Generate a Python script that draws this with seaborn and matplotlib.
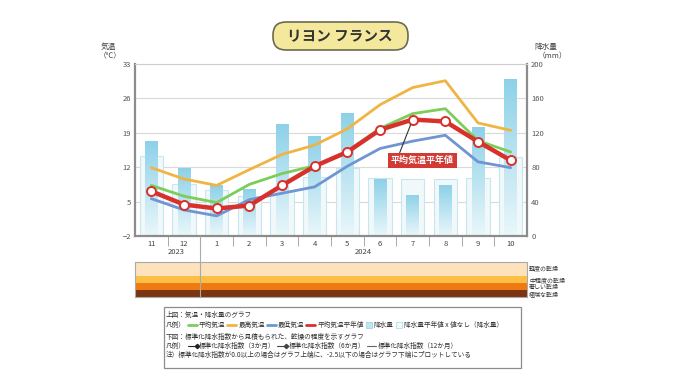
import numpy as np
import matplotlib
matplotlib.use("Agg")
import matplotlib.pyplot as plt
import seaborn as sns
from matplotlib.colors import LinearSegmentedColormap
from matplotlib.patches import FancyBboxPatch, Rectangle
from matplotlib.lines import Line2D

# data
months = ['11', '12', '1', '2', '3', '4', '5', '6', '7', '8', '9', '10']
temp_avg = [8.3, 6.1, 4.8, 8.5, 10.7, 12.3, 15.2, 19.9, 22.9, 23.9, 17.4, 15.1]
temp_max = [11.9, 9.6, 8.3, 11.5, 14.6, 16.5, 19.8, 24.7, 28.2, 29.6, 21.0, 19.5]
temp_min = [5.6, 3.3, 2.1, 5.4, 6.7, 8.0, 12.2, 15.8, 17.3, 18.5, 13.1, 11.9]
temp_normal = [7.1, 4.4, 3.6, 4.2, 8.3, 12.2, 15.1, 19.6, 21.7, 21.3, 17.2, 13.4]
precip = [110, 79, 59, 55, 130, 116, 143, 66, 48, 59, 127, 182]
precip_normal = [93, 61, 53, 47, 52, 69, 79, 68, 66, 66, 68, 92]
temp_ticks = [-2, 5, 12, 19, 26, 33]
precip_ticks = [0, 40, 80, 120, 160, 200]
drought_labels = ['軽度の乾燥', '中程度の乾燥', '著しい乾燥', '極端な乾燥']
drought_colors = ['#fde2bb', '#fbbf45', '#ef7a12', '#7b3411']

sns.set_style("white")
plt.rcParams['font.family'] = ['Noto Sans CJK JP', 'DejaVu Sans']

W, H = 680, 382
fig = plt.figure(figsize=(6.8, 3.82), dpi=100)

def fx(px):
    return px / W

def fy(py):
    return 1 - py / H

# main axes: precip bars underneath, temperatures on a twin axis
ax = fig.add_axes([fx(135), fy(236), fx(392), 172 / H])
x = np.arange(len(months))

sns.barplot(x=x, y=precip_normal, ax=ax, width=0.72, color='#eef9fc',
            edgecolor='#c6e7f0', linewidth=0.8, errorbar=None)
sns.barplot(x=x, y=precip, ax=ax, width=0.39, color='#9fd9ec',
            edgecolor='none', errorbar=None)

grad = LinearSegmentedColormap.from_list('g', ['#eaf7fb', '#8dd1e8'])
img = np.linspace(0, 1, 256).reshape(-1, 1)
for p in ax.patches[len(months):]:
    x0, w, h = p.get_x(), p.get_width(), p.get_height()
    im = ax.imshow(img, extent=(x0, x0 + w, 0, h), origin='lower',
                   aspect='auto', cmap=grad, zorder=p.get_zorder())
    im.set_clip_path(p)

ax_t = ax.twinx()

ax.set_xlim(-0.5, 11.5)
ax.set_ylim(0, 200)
ax.set_yticks(precip_ticks)
ax.yaxis.set_ticks_position('right')
ax.grid(axis='y', color='#dadada', lw=0.8)
ax.set_axisbelow(True)
ax.tick_params(axis='y', labelsize=5.5, colors='#555', length=0, pad=3,
               labelleft=False, labelright=True)
ax.set_xticks(x)
ax.set_xticklabels(months)
ax.tick_params(axis='x', labelsize=5.5, colors='#444', length=0, pad=3)
ax.set_xticks(np.arange(0.5, 11, 1), minor=True)
ax.tick_params(axis='x', which='minor', bottom=True, length=7,
               color='#aaa', width=0.7)
ax.set_xlabel('')
ax.set_ylabel('')
for s in ['left', 'bottom', 'right']:
    ax.spines[s].set_color('#8c8c8c')
    ax.spines[s].set_linewidth(1.6)
ax.spines['top'].set_color('#cfcfcf')
ax.spines['top'].set_linewidth(0.8)

for s in ax_t.spines.values():
    s.set_visible(False)
sns.lineplot(x=x, y=temp_max, ax=ax_t, color='#f0b443', lw=2.0)
sns.lineplot(x=x, y=temp_min, ax=ax_t, color='#6f95d2', lw=2.0)
sns.lineplot(x=x, y=temp_avg, ax=ax_t, color='#7ccd5a', lw=2.0)
sns.lineplot(x=x, y=temp_normal, ax=ax_t, color='#d8312b', lw=3.2,
             marker='o', markersize=6.5, markerfacecolor='white',
             markeredgecolor='#d8312b', markeredgewidth=1.4)
ax_t.set_ylim(-2, 33)
ax_t.set_yticks(temp_ticks)
ax_t.yaxis.set_ticks_position('left')
ax_t.tick_params(axis='y', labelsize=5.5, colors='#555', length=0, pad=3,
                 labelleft=True, labelright=False)
ax_t.set_ylabel('')
ax_t.set_xlim(-0.5, 11.5)

ax_t.annotate('平均気温平年値', xy=(8, temp_normal[8]), xytext=(8.3, 13.4),
              ha='center', va='center', fontsize=6.5, color='white',
              fontweight='bold',
              bbox=dict(boxstyle='square,pad=0.3', fc='#d23a34', ec='none'),
              arrowprops=dict(arrowstyle='-', color='#333', lw=0.8,
                              shrinkA=0, shrinkB=4, relpos=(0.12, 1)))

# axis titles and years
fig.text(fx(108), fy(47), '気温', fontsize=5.5, color='#444', ha='center', va='center')
fig.text(fx(110), fy(56), '（℃）', fontsize=5.5, color='#444', ha='center', va='center')
fig.text(fx(546), fy(47), '降水量', fontsize=5.5, color='#444', ha='center', va='center')
fig.text(fx(552), fy(56), '（mm）', fontsize=5.5, color='#444', ha='center', va='center')
ax.text(0.75, -0.095, '2023', transform=ax.get_xaxis_transform(), fontsize=5.5,
        color='#444', ha='center', va='center')
ax.text(6.5, -0.095, '2024', transform=ax.get_xaxis_transform(), fontsize=5.5,
        color='#444', ha='center', va='center')

# drought band
ax_d = fig.add_axes([fx(135), fy(297), fx(392), 35 / H])
bounds = [(0.6, 1.0), (0.4, 0.6), (0.2, 0.4), (0.0, 0.2)]
for (lo, hi), c in zip(bounds, drought_colors):
    ax_d.axhspan(lo, hi, color=c, lw=0)
ax_d.set_xlim(-0.5, 11.5)
ax_d.set_ylim(0, 1)
ax_d.set_xticks([])
ax_d.set_yticks([])
for s in ax_d.spines.values():
    s.set_color('#aaaaaa')
    s.set_linewidth(0.8)
label_y = [268, 280, 287, 294]
for lab, py in zip(drought_labels, label_y):
    fig.text(fx(529), fy(py), lab, fontsize=4.3, color='#333', ha='left', va='center')

fig.add_artist(Line2D([fx(200.3), fx(200.3)], [fy(236), fy(297)],
                      color='#aaaaaa', lw=0.8))

# title box
fig.add_artist(FancyBboxPatch((2.73, (H - 50) / 100), 1.35, 0.28,
                              boxstyle='round,pad=0,rounding_size=0.13',
                              transform=fig.dpi_scale_trans,
                              fc='#f4e89c', ec='#6b6a52', lw=1.2))
fig.text(fx(340), fy(36), 'リヨン フランス', fontsize=10.5, fontweight='bold',
         color='#333', ha='center', va='center')

# legend box
fig.add_artist(Rectangle((fx(164), fy(368)), fx(357), 61 / H,
                         transform=fig.transFigure, fc='white',
                         ec='#8c8c8c', lw=0.9))
fs = 4.8
tc = '#333'
renderer = fig.canvas.get_renderer()

def legend_row(py, items, px=166):
    for kind, val in items:
        if kind == 't':
            t = fig.text(fx(px), fy(py), val, fontsize=fs, color=tc,
                         ha='left', va='center')
            px += t.get_window_extent(renderer).width + 1
        elif kind == 'line':
            fig.add_artist(Line2D([fx(px + 1), fx(px + 10)], [fy(py), fy(py)],
                                  color=val, lw=2.0))
            px += 12
        elif kind == 'box':
            fc, ec = val
            fig.add_artist(Rectangle((fx(px + 1), fy(py + 3)), fx(6), 6 / H,
                                     transform=fig.transFigure, fc=fc, ec=ec, lw=0.6))
            px += 9
        elif kind == 'spi':
            color, mk = val
            fig.add_artist(Line2D([fx(px + 1), fx(px + 10)], [fy(py), fy(py)],
                                  color=color, lw=0.8, marker=mk,
                                  markersize=2.2, markevery=[1]))
            px += 12

legend_row(315, [('t', '上図：気温・降水量のグラフ')])
legend_row(325, [('t', '凡例）'), ('line', '#7ccd5a'), ('t', '平均気温'),
                 ('line', '#f0b443'), ('t', '最高気温'),
                 ('line', '#6f95d2'), ('t', '最低気温'),
                 ('line', '#d8312b'), ('t', '平均気温平年値'),
                 ('box', ('#bfe6f2', '#9fd4e6')), ('t', '降水量'),
                 ('box', ('#f2fbfd', '#b5dde8')), ('t', '降水量平年値 x 値なし（降水量）')])
legend_row(337, [('t', '下図：標準化降水指数から見積もられた、乾燥の程度を示すグラフ')])
legend_row(346, [('t', '凡例）'), ('spi', ('#222', 'D')), ('t', '標準化降水指数（3か月）'),
                 ('spi', ('#444', 'D')), ('t', '標準化降水指数（6か月）'),
                 ('spi', ('#666', '')), ('t', '標準化降水指数（12か月）')])
legend_row(355, [('t', '注）標準化降水指数が0.0以上の場合はグラフ上端に、-2.5以下の場合はグラフ下端にプロットしている')])

fig.savefig('out.png', dpi=100, facecolor='white')
